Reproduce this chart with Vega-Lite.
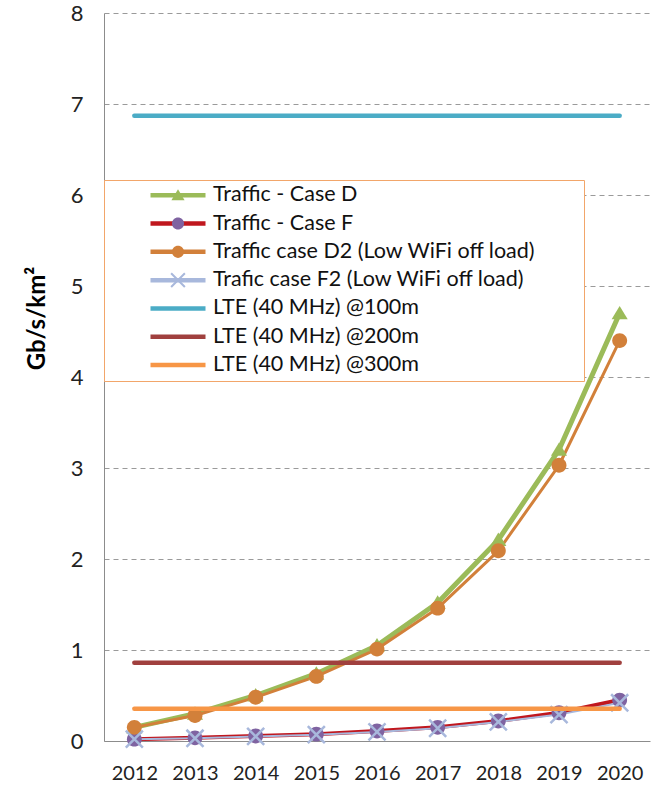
{
  "$schema": "https://vega.github.io/schema/vega-lite/v6.json",
  "width": 546,
  "height": 728,
  "autosize": {"type": "none"},
  "padding": {"left": 104, "top": 13, "right": 14, "bottom": 46},
  "background": "white",
  "config": {"view": {"stroke": null}, "font": "Lato"},
  "datasets": {
    "traffic": [
      {"year": "2012", "series": "Traffic - Case F", "value": 0.02},
      {"year": "2013", "series": "Traffic - Case F", "value": 0.035},
      {"year": "2014", "series": "Traffic - Case F", "value": 0.055},
      {"year": "2015", "series": "Traffic - Case F", "value": 0.075},
      {"year": "2016", "series": "Traffic - Case F", "value": 0.11},
      {"year": "2017", "series": "Traffic - Case F", "value": 0.15},
      {"year": "2018", "series": "Traffic - Case F", "value": 0.22},
      {"year": "2019", "series": "Traffic - Case F", "value": 0.31},
      {"year": "2020", "series": "Traffic - Case F", "value": 0.45},
      {"year": "2012", "series": "Traffic - Case D", "value": 0.15},
      {"year": "2013", "series": "Traffic - Case D", "value": 0.3},
      {"year": "2014", "series": "Traffic - Case D", "value": 0.5},
      {"year": "2015", "series": "Traffic - Case D", "value": 0.74},
      {"year": "2016", "series": "Traffic - Case D", "value": 1.05},
      {"year": "2017", "series": "Traffic - Case D", "value": 1.52},
      {"year": "2018", "series": "Traffic - Case D", "value": 2.21},
      {"year": "2019", "series": "Traffic - Case D", "value": 3.2},
      {"year": "2020", "series": "Traffic - Case D", "value": 4.7},
      {"year": "2012", "series": "Traffic case D2 (Low WiFi off load)", "value": 0.15},
      {"year": "2013", "series": "Traffic case D2 (Low WiFi off load)", "value": 0.28},
      {"year": "2014", "series": "Traffic case D2 (Low WiFi off load)", "value": 0.48},
      {"year": "2015", "series": "Traffic case D2 (Low WiFi off load)", "value": 0.71},
      {"year": "2016", "series": "Traffic case D2 (Low WiFi off load)", "value": 1.01},
      {"year": "2017", "series": "Traffic case D2 (Low WiFi off load)", "value": 1.46},
      {"year": "2018", "series": "Traffic case D2 (Low WiFi off load)", "value": 2.09},
      {"year": "2019", "series": "Traffic case D2 (Low WiFi off load)", "value": 3.03},
      {"year": "2020", "series": "Traffic case D2 (Low WiFi off load)", "value": 4.4},
      {"year": "2012", "series": "Trafic case F2 (Low WiFi off load)", "value": 0.02},
      {"year": "2013", "series": "Trafic case F2 (Low WiFi off load)", "value": 0.03},
      {"year": "2014", "series": "Trafic case F2 (Low WiFi off load)", "value": 0.05},
      {"year": "2015", "series": "Trafic case F2 (Low WiFi off load)", "value": 0.07},
      {"year": "2016", "series": "Trafic case F2 (Low WiFi off load)", "value": 0.1},
      {"year": "2017", "series": "Trafic case F2 (Low WiFi off load)", "value": 0.14},
      {"year": "2018", "series": "Trafic case F2 (Low WiFi off load)", "value": 0.21},
      {"year": "2019", "series": "Trafic case F2 (Low WiFi off load)", "value": 0.29},
      {"year": "2020", "series": "Trafic case F2 (Low WiFi off load)", "value": 0.42}
    ],
    "lte": [
      {"year": "2012", "series": "LTE (40 MHz) @100m", "value": 6.87},
      {"year": "2020", "series": "LTE (40 MHz) @100m", "value": 6.87},
      {"year": "2012", "series": "LTE (40 MHz) @200m", "value": 0.86},
      {"year": "2020", "series": "LTE (40 MHz) @200m", "value": 0.86},
      {"year": "2012", "series": "LTE (40 MHz) @300m", "value": 0.355},
      {"year": "2020", "series": "LTE (40 MHz) @300m", "value": 0.355}
    ]
  },
  "encoding": {
    "x": {
      "field": "year",
      "type": "ordinal",
      "axis": {
        "title": null,
        "labelAngle": 0,
        "labelFont": "Lato",
        "labelFontSize": 20,
        "labelColor": "#222222",
        "labelPadding": 22,
        "ticks": false,
        "tickSize": 0,
        "grid": false,
        "domainColor": "#8c8c8c",
        "domainWidth": 1
      }
    },
    "y": {
      "field": "value",
      "type": "quantitative",
      "scale": {"domain": [0, 8], "nice": false, "zero": true},
      "axis": {
        "values": [0, 1, 2, 3, 4, 5, 6, 7, 8],
        "title": "Gb/s/km²",
        "titleFont": "Lato",
        "titleFontSize": 24,
        "titleFontWeight": "bold",
        "titleColor": "#000000",
        "titleX": -67,
        "titleY": 305,
        "titleAngle": 270,
        "titleAlign": "center",
        "titleBaseline": "middle",
        "labelFont": "Lato",
        "labelFontSize": 22,
        "labelColor": "#222222",
        "labelPadding": 21,
        "labelFlush": false,
        "ticks": false,
        "tickSize": 0,
        "grid": true,
        "gridDash": [5, 4],
        "gridColor": "#9a9a9a",
        "gridWidth": 1,
        "domainColor": "#8c8c8c",
        "domainWidth": 1
      }
    }
  },
  "layer": [
    {
      "data": {"name": "traffic"},
      "mark": {"type": "line", "strokeCap": "round", "strokeJoin": "round"},
      "encoding": {
        "stroke": {
          "field": "series",
          "type": "nominal",
          "scale": {
            "domain": ["Traffic - Case D", "Traffic - Case F", "Traffic case D2 (Low WiFi off load)", "Trafic case F2 (Low WiFi off load)", "LTE (40 MHz) @100m", "LTE (40 MHz) @200m", "LTE (40 MHz) @300m"],
            "range": ["#9BBB59", "#C0171E", "#D2803A", "#A8B8DC", "#4BACC6", "#A0403E", "#F79646"]
          },
          "legend": {
            "title": "M",
            "titleOrient": "right",
            "titleOpacity": 0,
            "titleFont": "Lato",
            "titleFontSize": 20,
            "titlePadding": 25,
            "orient": "none",
            "legendX": 0,
            "legendY": 167,
            "padding": 4.5,
            "clipHeight": 21.5,
            "fillColor": "white",
            "strokeColor": "#F2A66A",
            "symbolType": "stroke",
            "symbolSize": 3025,
            "symbolStrokeWidth": 4.5,
            "symbolOffset": 39.5,
            "labelOffset": 5,
            "labelFont": "Lato",
            "labelFontSize": 21.5,
            "labelColor": "#111111",
            "labelLimit": 400,
            "rowPadding": 5.3
          }
        },
        "strokeWidth": {
          "field": "series",
          "type": "nominal",
          "scale": {
            "domain": ["Traffic - Case D", "Traffic - Case F", "Traffic case D2 (Low WiFi off load)", "Trafic case F2 (Low WiFi off load)"],
            "range": [5, 2, 5, 5]
          },
          "legend": null
        }
      }
    },
    {
      "data": {"name": "traffic"},
      "mark": {"type": "point", "filled": true, "opacity": 1},
      "encoding": {
        "fill": {
          "field": "series",
          "type": "nominal",
          "scale": {
            "domain": ["Traffic - Case D", "Traffic - Case F", "Traffic case D2 (Low WiFi off load)", "Trafic case F2 (Low WiFi off load)", "LTE (40 MHz) @100m", "LTE (40 MHz) @200m", "LTE (40 MHz) @300m", "_"],
            "range": ["#9BBB59", "#7F63A1", "#D2803A", "#A8B8DC", "transparent", "transparent", "transparent", "transparent"]
          },
          "legend": {
            "title": null,
            "orient": "none",
            "legendX": 0,
            "legendY": 167,
            "padding": 4.5,
            "clipHeight": 21.5,
            "symbolSize": 3025,
            "symbolStrokeWidth": 4.5,
            "symbolStrokeColor": "transparent",
            "symbolOffset": 39.5,
            "labelOffset": 5,
            "labelFont": "Lato",
            "labelFontSize": 21.5,
            "labelOpacity": 0,
            "labelLimit": 400,
            "rowPadding": 5.3
          }
        },
        "shape": {
          "field": "series",
          "type": "nominal",
          "scale": {
            "domain": ["Traffic - Case D", "Traffic - Case F", "Traffic case D2 (Low WiFi off load)", "Trafic case F2 (Low WiFi off load)", "LTE (40 MHz) @100m", "LTE (40 MHz) @200m", "LTE (40 MHz) @300m", "_"],
            "range": [
              "M0,-0.22L0.24,0.18L-0.24,0.18Z",
              "M-0.22,0A0.22,0.22,0,1,0,0.22,0A0.22,0.22,0,1,0,-0.22,0Z",
              "M-0.22,0A0.22,0.22,0,1,0,0.22,0A0.22,0.22,0,1,0,-0.22,0Z",
              "M-0.224,-0.276L0.276,0.224L0.224,0.276L-0.276,-0.224ZM-0.224,0.276L-0.276,0.224L0.224,-0.276L0.276,-0.224Z",
              "M0,0",
              "M0,0",
              "M0,0",
              "M0,0"
            ]
          }
        },
        "size": {
          "field": "series",
          "type": "nominal",
          "scale": {
            "domain": ["Traffic - Case D", "Traffic - Case F", "Traffic case D2 (Low WiFi off load)", "Trafic case F2 (Low WiFi off load)"],
            "range": [4500, 4650, 10500, 6400]
          },
          "legend": null
        }
      }
    },
    {
      "data": {"name": "lte"},
      "mark": {"type": "line", "strokeWidth": 4.5, "strokeCap": "round"},
      "encoding": {
        "stroke": {"field": "series", "type": "nominal"}
      }
    }
  ]
}
